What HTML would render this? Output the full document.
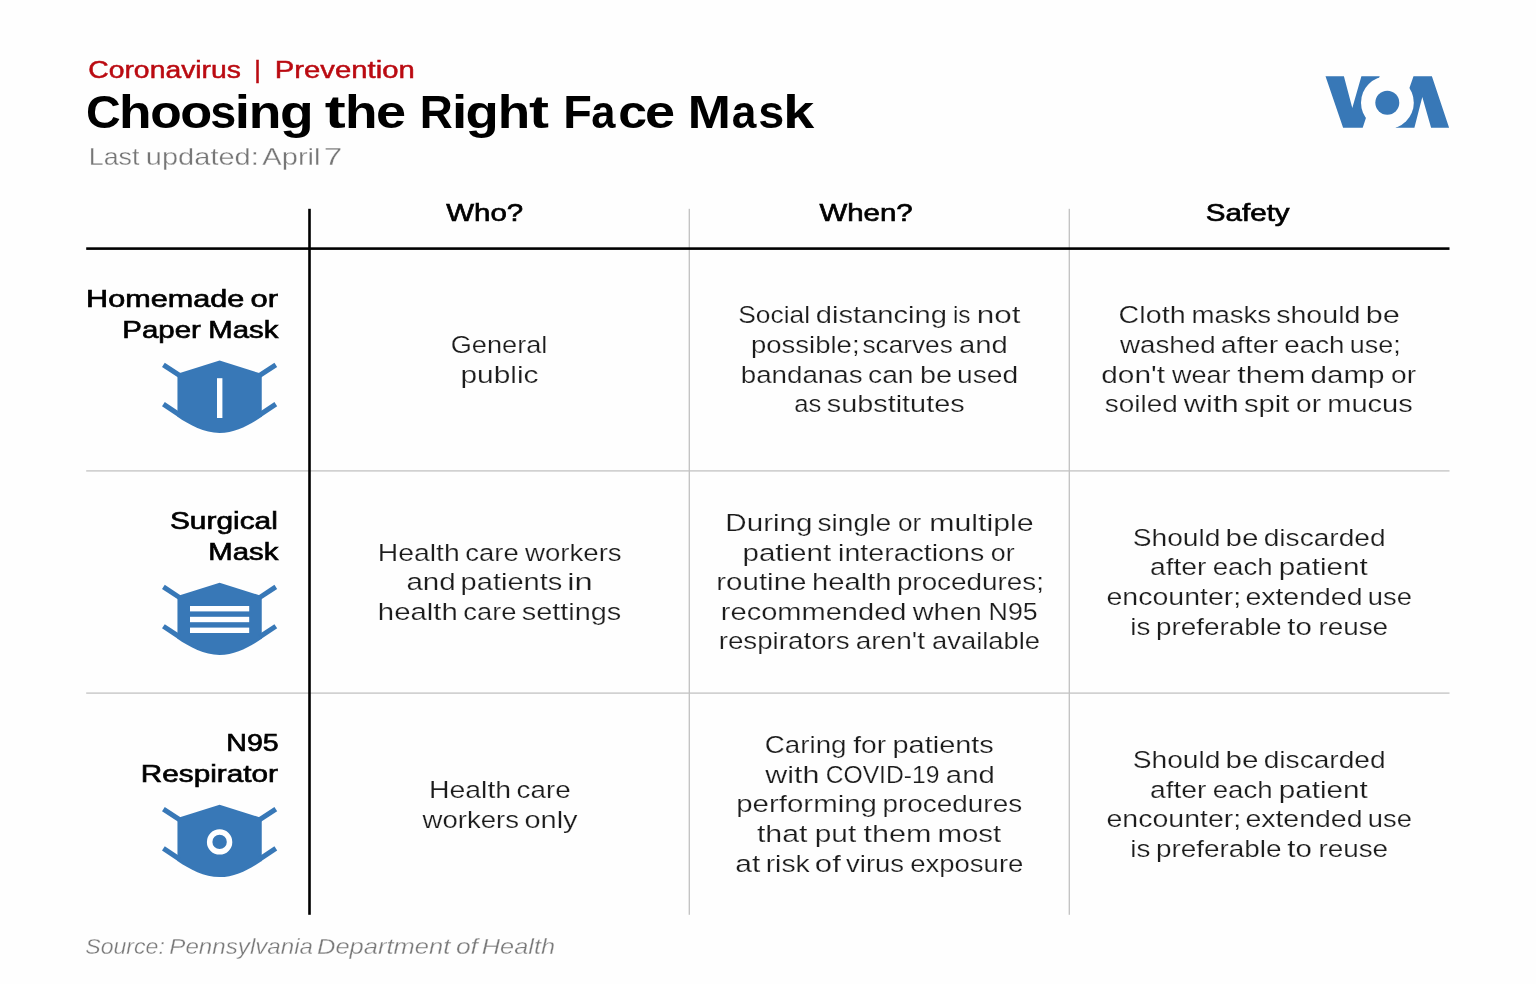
<!DOCTYPE html>
<html><head><meta charset="utf-8"><title>Choosing the Right Face Mask</title>
<style>
html,body{margin:0;padding:0;background:#fefefe;}
body{width:1536px;height:984px;position:relative;overflow:hidden;font-family:"Liberation Sans",sans-serif;}
.l{position:absolute;left:0;top:0;font-size:0;line-height:0;white-space:pre;}
.t,.w{display:inline-block;width:0;vertical-align:top;line-height:1;white-space:pre;}
.t{transform-origin:0 0;}
.s0{font-size:24.7px;color:#ba0a11;-webkit-text-stroke:0.5px #ba0a11;}
.s1{font-size:47.0px;color:#000;font-weight:700;}
.s2{font-size:23.6px;color:#767676;-webkit-text-stroke:0.3px #fefefe;}
.s3{font-size:24.4px;color:#000;-webkit-text-stroke:0.65px #000;}
.s4{font-size:23.7px;color:#1c1c1c;-webkit-text-stroke:0.2px #fefefe;}
.s5{font-size:21.8px;color:#7a7a7a;font-style:italic;-webkit-text-stroke:0.3px #fefefe;}
#tx{position:absolute;left:0;top:0;width:1536px;height:984px;will-change:transform;}
</style></head><body>
<svg width="1536" height="984" viewBox="0 0 1536 984" style="position:absolute;left:0;top:0">
<g fill="#c2c2c2">
<rect x="688.65" y="208.8" width="1.3" height="706"/>
<rect x="1068.65" y="208.8" width="1.3" height="706"/>
<rect x="86.2" y="470.25" width="1363.3" height="1.3"/>
<rect x="86.2" y="692.45" width="1363.3" height="1.3"/>
</g>
<rect x="86.2" y="247.3" width="1363.3" height="2.6" fill="#000"/>
<rect x="308.2" y="208.8" width="2.6" height="706" fill="#000"/>
<!-- logo -->
<g fill="#3878b7">
<path d="M1325.5,76.3 L1343.9,76.3 L1352.3,108 L1361.4,76.2 L1379.7,76.2 L1362.7,127.8 L1343.1,127.8 Z"/>
<path d="M1413.5,76.2 L1431.9,76.2 L1449.1,127.8 L1431.1,127.8 L1422.3,97 L1414.4,127.8 L1395.6,127.8 Z"/>
</g>
<circle cx="1387.4" cy="102.7" r="26.4" fill="#fefefe"/>
<circle cx="1387.3" cy="102.7" r="12" fill="#3878b7"/>
<g transform="translate(0,0)">
<path d="M177.45,373.85 L219.6,360.6 L261.75,373.85 L261.75,416.7 C249.2,425.2 235.2,432.9 219.6,432.9 C204,432.9 190,425.2 177.45,416.7 Z" fill="#3878b7"/>
<g stroke="#3878b7" stroke-width="5" fill="none">
<path d="M163.4,364.85 L179.5,375.4"/><path d="M275.8,364.85 L259.7,375.4"/>
<path d="M163.4,404.15 L179.5,414.85"/><path d="M275.8,404.15 L259.7,414.85"/>
</g>
<rect x="217.0" y="378.2" width="5.4" height="39.8" fill="#fff"/>
</g>
<g transform="translate(0,222.1)">
<path d="M177.45,373.85 L219.6,360.6 L261.75,373.85 L261.75,416.7 C249.2,425.2 235.2,432.9 219.6,432.9 C204,432.9 190,425.2 177.45,416.7 Z" fill="#3878b7"/>
<g stroke="#3878b7" stroke-width="5" fill="none">
<path d="M163.4,364.85 L179.5,375.4"/><path d="M275.8,364.85 L259.7,375.4"/>
<path d="M163.4,404.15 L179.5,414.85"/><path d="M275.8,404.15 L259.7,414.85"/>
</g>
<rect x="190.0" y="383.9" width="59.2" height="5.4" fill="#fff"/><rect x="190.0" y="394.70000000000005" width="59.2" height="5.4" fill="#fff"/><rect x="190.0" y="405.5" width="59.2" height="5.4" fill="#fff"/>
</g>
<g transform="translate(0,444.2)">
<path d="M177.45,373.85 L219.6,360.6 L261.75,373.85 L261.75,416.7 C249.2,425.2 235.2,432.9 219.6,432.9 C204,432.9 190,425.2 177.45,416.7 Z" fill="#3878b7"/>
<g stroke="#3878b7" stroke-width="5" fill="none">
<path d="M163.4,364.85 L179.5,375.4"/><path d="M275.8,364.85 L259.7,375.4"/>
<path d="M163.4,404.15 L179.5,414.85"/><path d="M275.8,404.15 L259.7,414.85"/>
</g>
<circle cx="219.6" cy="397.7" r="9.95" fill="none" stroke="#fff" stroke-width="5.5"/>
</g>
</svg>
<div id="tx">
<div class="l"><span class="t s0" style="transform:translate(88.23px,58.35px) scaleX(1.1474)">Coronavirus</span> <span class="t s0" style="transform:translate(254.27px,58.35px) scaleX(1.0216)">|</span> <span class="t s0" style="transform:translate(274.85px,58.35px) scaleX(1.1847)">Prevention</span></div>
<div class="l"><span class="w"><span class="t s1" style="transform:translate(85.96px,87.60px) scaleX(1.0232)">C</span><span class="t s1" style="transform:translate(119.10px,87.60px) scaleX(1.1350)">h</span><span class="t s1" style="transform:translate(150.35px,87.60px) scaleX(1.0966)">o</span><span class="t s1" style="transform:translate(180.21px,87.60px) scaleX(1.1127)">o</span><span class="t s1" style="transform:translate(210.36px,87.60px) scaleX(0.9942)">s</span><span class="t s1" style="transform:translate(234.80px,87.60px) scaleX(1.1654)">i</span><span class="t s1" style="transform:translate(248.84px,87.60px) scaleX(1.1376)">n</span><span class="t s1" style="transform:translate(279.95px,87.60px) scaleX(1.1734)">g</span></span> <span class="w"><span class="t s1" style="transform:translate(324.65px,87.60px) scaleX(1.3406)">t</span><span class="t s1" style="transform:translate(344.96px,87.60px) scaleX(1.1328)">h</span><span class="t s1" style="transform:translate(376.04px,87.60px) scaleX(1.1492)">e</span></span> <span class="w"><span class="t s1" style="transform:translate(419.66px,87.60px) scaleX(0.9739)">R</span><span class="t s1" style="transform:translate(451.90px,87.60px) scaleX(1.1654)">i</span><span class="t s1" style="transform:translate(465.47px,87.60px) scaleX(1.1606)">g</span><span class="t s1" style="transform:translate(497.72px,87.60px) scaleX(1.1306)">h</span><span class="t s1" style="transform:translate(529.11px,87.60px) scaleX(1.2761)">t</span></span> <span class="w"><span class="t s1" style="transform:translate(563.19px,87.60px) scaleX(0.9962)">F</span><span class="t s1" style="transform:translate(591.37px,87.60px) scaleX(0.9252)">a</span><span class="t s1" style="transform:translate(618.33px,87.60px) scaleX(1.1023)">c</span><span class="t s1" style="transform:translate(645.04px,87.60px) scaleX(1.1492)">e</span></span> <span class="w"><span class="t s1" style="transform:translate(687.76px,87.60px) scaleX(1.1006)">M</span><span class="t s1" style="transform:translate(731.65px,87.60px) scaleX(0.9412)">a</span><span class="t s1" style="transform:translate(758.16px,87.60px) scaleX(0.9942)">s</span><span class="t s1" style="transform:translate(783.13px,87.60px) scaleX(1.1868)">k</span></span></div>
<div class="l"><span class="t s2" style="transform:translate(88.75px,146.15px) scaleX(1.1340)">Last</span> <span class="t s2" style="transform:translate(145.87px,146.15px) scaleX(1.2290)">updated:</span> <span class="t s2" style="transform:translate(262.35px,146.15px) scaleX(1.2312)">April</span> <span class="t s2" style="transform:translate(323.73px,146.15px) scaleX(1.4125)">7</span></div>
<div class="l"><span class="t s3" style="transform:translate(446.27px,200.95px) scaleX(1.2066)">Who?</span></div>
<div class="l"><span class="t s3" style="transform:translate(819.47px,200.95px) scaleX(1.2058)">When?</span></div>
<div class="l"><span class="t s3" style="transform:translate(1205.84px,200.95px) scaleX(1.2118)">Safety</span></div>
<div class="l"><span class="t s3" style="transform:translate(86.03px,287.05px) scaleX(1.2553)">Homemade</span> <span class="t s3" style="transform:translate(250.53px,287.05px) scaleX(1.2689)">or</span></div>
<div class="l"><span class="t s3" style="transform:translate(122.33px,317.95px) scaleX(1.2059)">Paper</span> <span class="t s3" style="transform:translate(208.24px,317.95px) scaleX(1.2036)">Mask</span></div>
<div class="l"><span class="t s3" style="transform:translate(169.93px,509.20px) scaleX(1.2250)">Surgical</span></div>
<div class="l"><span class="t s3" style="transform:translate(208.24px,540.20px) scaleX(1.2036)">Mask</span></div>
<div class="l"><span class="t s3" style="transform:translate(226.30px,731.30px) scaleX(1.1708)">N95</span></div>
<div class="l"><span class="t s3" style="transform:translate(140.81px,762.30px) scaleX(1.2179)">Respirator</span></div>
<div class="l"><span class="t s4" style="transform:translate(450.68px,334.00px) scaleX(1.1468)">General</span></div>
<div class="l"><span class="t s4" style="transform:translate(460.41px,363.70px) scaleX(1.2617)">public</span></div>
<div class="l"><span class="t s4" style="transform:translate(738.14px,304.40px) scaleX(1.1145)">Social</span> <span class="t s4" style="transform:translate(815.77px,304.40px) scaleX(1.2302)">distancing</span> <span class="t s4" style="transform:translate(952.88px,304.40px) scaleX(1.0312)">is</span> <span class="t s4" style="transform:translate(976.66px,304.40px) scaleX(1.3305)">not</span></div>
<div class="l"><span class="t s4" style="transform:translate(751.02px,334.00px) scaleX(1.1607)">possible;</span> <span class="t s4" style="transform:translate(862.48px,334.00px) scaleX(1.1067)">scarves</span> <span class="t s4" style="transform:translate(958.90px,334.00px) scaleX(1.2370)">and</span></div>
<div class="l"><span class="t s4" style="transform:translate(740.70px,363.60px) scaleX(1.1713)">bandanas</span> <span class="t s4" style="transform:translate(868.10px,363.60px) scaleX(1.1896)">can</span> <span class="t s4" style="transform:translate(919.90px,363.60px) scaleX(1.2174)">be</span> <span class="t s4" style="transform:translate(957.07px,363.60px) scaleX(1.1886)">used</span></div>
<div class="l"><span class="t s4" style="transform:translate(794.30px,393.20px) scaleX(1.0826)">as</span> <span class="t s4" style="transform:translate(826.75px,393.20px) scaleX(1.2178)">substitutes</span></div>
<div class="l"><span class="t s4" style="transform:translate(1118.59px,304.40px) scaleX(1.2118)">Cloth</span> <span class="t s4" style="transform:translate(1191.40px,304.40px) scaleX(1.1656)">masks</span> <span class="t s4" style="transform:translate(1276.17px,304.40px) scaleX(1.2070)">should</span> <span class="t s4" style="transform:translate(1365.65px,304.40px) scaleX(1.2938)">be</span></div>
<div class="l"><span class="t s4" style="transform:translate(1119.90px,334.00px) scaleX(1.1730)">washed</span> <span class="t s4" style="transform:translate(1220.84px,334.00px) scaleX(1.2124)">after</span> <span class="t s4" style="transform:translate(1284.33px,334.00px) scaleX(1.1692)">each</span> <span class="t s4" style="transform:translate(1349.87px,334.00px) scaleX(1.1365)">use;</span></div>
<div class="l"><span class="t s4" style="transform:translate(1101.23px,363.60px) scaleX(1.2611)">don&#x27;t</span> <span class="t s4" style="transform:translate(1171.91px,363.60px) scaleX(1.1411)">wear</span> <span class="t s4" style="transform:translate(1237.20px,363.60px) scaleX(1.2927)">them</span> <span class="t s4" style="transform:translate(1310.44px,363.60px) scaleX(1.2513)">damp</span> <span class="t s4" style="transform:translate(1391.10px,363.60px) scaleX(1.1905)">or</span></div>
<div class="l"><span class="t s4" style="transform:translate(1104.80px,393.20px) scaleX(1.1807)">soiled</span> <span class="t s4" style="transform:translate(1183.75px,393.20px) scaleX(1.3077)">with</span> <span class="t s4" style="transform:translate(1243.93px,393.20px) scaleX(1.2362)">spit</span> <span class="t s4" style="transform:translate(1296.11px,393.20px) scaleX(1.1853)">or</span> <span class="t s4" style="transform:translate(1327.28px,393.20px) scaleX(1.2250)">mucus</span></div>
<div class="l"><span class="t s4" style="transform:translate(377.77px,541.60px) scaleX(1.1974)">Health</span> <span class="t s4" style="transform:translate(465.34px,541.60px) scaleX(1.1574)">care</span> <span class="t s4" style="transform:translate(525.00px,541.60px) scaleX(1.1657)">workers</span></div>
<div class="l"><span class="t s4" style="transform:translate(406.39px,571.20px) scaleX(1.2466)">and</span> <span class="t s4" style="transform:translate(460.58px,571.20px) scaleX(1.2265)">patients</span> <span class="t s4" style="transform:translate(567.26px,571.20px) scaleX(1.3811)">in</span></div>
<div class="l"><span class="t s4" style="transform:translate(377.84px,600.80px) scaleX(1.2376)">health</span> <span class="t s4" style="transform:translate(463.35px,600.80px) scaleX(1.1528)">care</span> <span class="t s4" style="transform:translate(521.75px,600.80px) scaleX(1.2194)">settings</span></div>
<div class="l"><span class="t s4" style="transform:translate(725.37px,512.00px) scaleX(1.2474)">During</span> <span class="t s4" style="transform:translate(817.49px,512.00px) scaleX(1.1887)">single</span> <span class="t s4" style="transform:translate(897.91px,512.00px) scaleX(1.1029)">or</span> <span class="t s4" style="transform:translate(929.17px,512.00px) scaleX(1.2793)">multiple</span></div>
<div class="l"><span class="t s4" style="transform:translate(742.44px,541.60px) scaleX(1.2485)">patient</span> <span class="t s4" style="transform:translate(838.12px,541.60px) scaleX(1.2056)">interactions</span> <span class="t s4" style="transform:translate(990.77px,541.60px) scaleX(1.1338)">or</span></div>
<div class="l"><span class="t s4" style="transform:translate(716.23px,571.20px) scaleX(1.2466)">routine</span> <span class="t s4" style="transform:translate(811.95px,571.20px) scaleX(1.2326)">health</span> <span class="t s4" style="transform:translate(896.89px,571.20px) scaleX(1.1752)">procedures;</span></div>
<div class="l"><span class="t s4" style="transform:translate(720.83px,600.80px) scaleX(1.2259)">recommended</span> <span class="t s4" style="transform:translate(912.78px,600.80px) scaleX(1.2170)">when</span> <span class="t s4" style="transform:translate(988.62px,600.80px) scaleX(1.1290)">N95</span></div>
<div class="l"><span class="t s4" style="transform:translate(718.69px,630.40px) scaleX(1.1703)">respirators</span> <span class="t s4" style="transform:translate(855.67px,630.40px) scaleX(1.1847)">aren&#x27;t</span> <span class="t s4" style="transform:translate(932.11px,630.40px) scaleX(1.1541)">available</span></div>
<div class="l"><span class="t s4" style="transform:translate(1132.63px,526.80px) scaleX(1.1918)">Should</span> <span class="t s4" style="transform:translate(1225.54px,526.80px) scaleX(1.2479)">be</span> <span class="t s4" style="transform:translate(1263.73px,526.80px) scaleX(1.1863)">discarded</span></div>
<div class="l"><span class="t s4" style="transform:translate(1149.96px,556.40px) scaleX(1.1926)">after</span> <span class="t s4" style="transform:translate(1212.73px,556.40px) scaleX(1.1672)">each</span> <span class="t s4" style="transform:translate(1278.68px,556.40px) scaleX(1.2522)">patient</span></div>
<div class="l"><span class="t s4" style="transform:translate(1106.48px,586.00px) scaleX(1.2044)">encounter;</span> <span class="t s4" style="transform:translate(1245.39px,586.00px) scaleX(1.2012)">extended</span> <span class="t s4" style="transform:translate(1367.84px,586.00px) scaleX(1.1537)">use</span></div>
<div class="l"><span class="t s4" style="transform:translate(1130.28px,615.60px) scaleX(1.1755)">is</span> <span class="t s4" style="transform:translate(1155.88px,615.60px) scaleX(1.1779)">preferable</span> <span class="t s4" style="transform:translate(1287.24px,615.60px) scaleX(1.2465)">to</span> <span class="t s4" style="transform:translate(1318.38px,615.60px) scaleX(1.1768)">reuse</span></div>
<div class="l"><span class="t s4" style="transform:translate(1132.63px,749.05px) scaleX(1.1918)">Should</span> <span class="t s4" style="transform:translate(1225.54px,749.05px) scaleX(1.2479)">be</span> <span class="t s4" style="transform:translate(1263.73px,749.05px) scaleX(1.1863)">discarded</span></div>
<div class="l"><span class="t s4" style="transform:translate(1149.96px,778.65px) scaleX(1.1926)">after</span> <span class="t s4" style="transform:translate(1212.73px,778.65px) scaleX(1.1672)">each</span> <span class="t s4" style="transform:translate(1278.68px,778.65px) scaleX(1.2522)">patient</span></div>
<div class="l"><span class="t s4" style="transform:translate(1106.48px,808.25px) scaleX(1.2044)">encounter;</span> <span class="t s4" style="transform:translate(1245.39px,808.25px) scaleX(1.2012)">extended</span> <span class="t s4" style="transform:translate(1367.84px,808.25px) scaleX(1.1537)">use</span></div>
<div class="l"><span class="t s4" style="transform:translate(1130.28px,837.85px) scaleX(1.1755)">is</span> <span class="t s4" style="transform:translate(1155.88px,837.85px) scaleX(1.1779)">preferable</span> <span class="t s4" style="transform:translate(1287.24px,837.85px) scaleX(1.2465)">to</span> <span class="t s4" style="transform:translate(1318.38px,837.85px) scaleX(1.1768)">reuse</span></div>
<div class="l"><span class="t s4" style="transform:translate(428.97px,779.00px) scaleX(1.1989)">Health</span> <span class="t s4" style="transform:translate(516.57px,779.00px) scaleX(1.1723)">care</span></div>
<div class="l"><span class="t s4" style="transform:translate(422.50px,808.60px) scaleX(1.1627)">workers</span> <span class="t s4" style="transform:translate(524.46px,808.60px) scaleX(1.2230)">only</span></div>
<div class="l"><span class="t s4" style="transform:translate(764.75px,734.20px) scaleX(1.1719)">Caring</span> <span class="t s4" style="transform:translate(853.20px,734.20px) scaleX(1.1926)">for</span> <span class="t s4" style="transform:translate(892.49px,734.20px) scaleX(1.2215)">patients</span></div>
<div class="l"><span class="t s4" style="transform:translate(765.21px,763.80px) scaleX(1.2841)">with</span> <span class="t s4" style="transform:translate(825.63px,763.80px) scaleX(1.0420)">COVID-19</span> <span class="t s4" style="transform:translate(945.80px,763.80px) scaleX(1.2398)">and</span></div>
<div class="l"><span class="t s4" style="transform:translate(736.20px,793.40px) scaleX(1.2435)">performing</span> <span class="t s4" style="transform:translate(882.48px,793.40px) scaleX(1.1782)">procedures</span></div>
<div class="l"><span class="t s4" style="transform:translate(756.91px,823.00px) scaleX(1.2803)">that</span> <span class="t s4" style="transform:translate(814.72px,823.00px) scaleX(1.2600)">put</span> <span class="t s4" style="transform:translate(863.50px,823.00px) scaleX(1.2907)">them</span> <span class="t s4" style="transform:translate(937.44px,823.00px) scaleX(1.2435)">most</span></div>
<div class="l"><span class="t s4" style="transform:translate(735.27px,852.60px) scaleX(1.2668)">at</span> <span class="t s4" style="transform:translate(765.64px,852.60px) scaleX(1.1972)">risk</span> <span class="t s4" style="transform:translate(814.84px,852.60px) scaleX(1.3196)">of</span> <span class="t s4" style="transform:translate(846.07px,852.60px) scaleX(1.1607)">virus</span> <span class="t s4" style="transform:translate(910.14px,852.60px) scaleX(1.1625)">exposure</span></div>
<div class="l"><span class="t s5" style="transform:translate(85.33px,936.20px) scaleX(1.0579)">Source:</span> <span class="t s5" style="transform:translate(169.28px,936.20px) scaleX(1.1086)">Pennsylvania</span> <span class="t s5" style="transform:translate(317.01px,936.20px) scaleX(1.1700)">Department</span> <span class="t s5" style="transform:translate(455.91px,936.20px) scaleX(1.2110)">of</span> <span class="t s5" style="transform:translate(481.82px,936.20px) scaleX(1.1625)">Health</span></div>
</div>
</body></html>
